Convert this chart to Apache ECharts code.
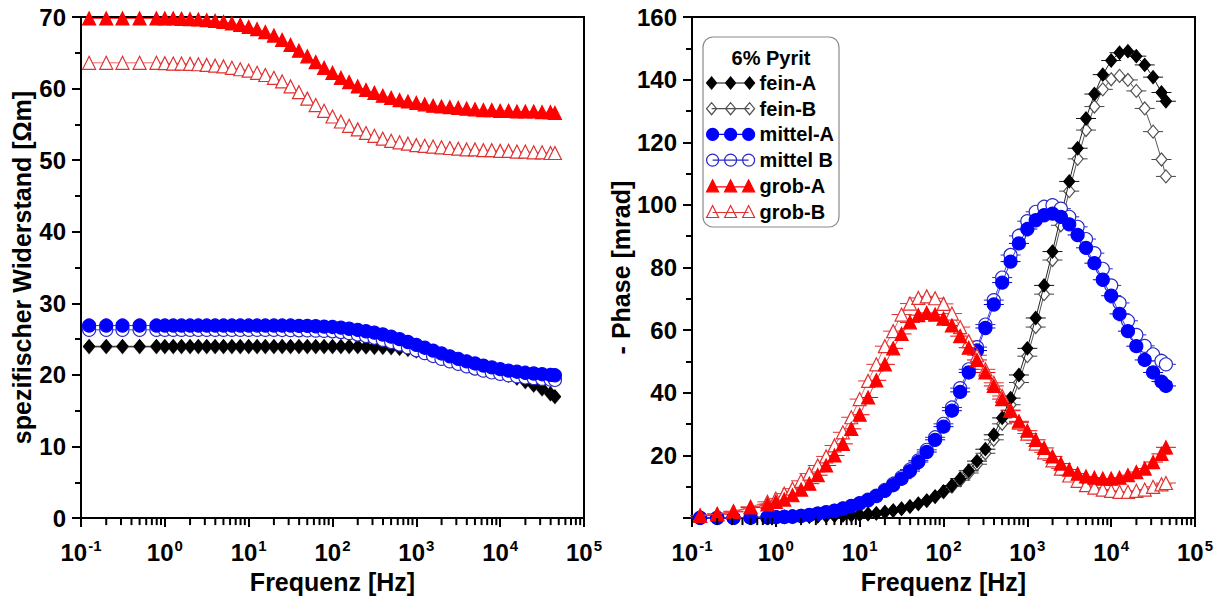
<!DOCTYPE html>
<html>
<head>
<meta charset="utf-8">
<script src="https://cdn.jsdelivr.net/npm/echarts@6/dist/echarts.min.js"></script>
<style>
html,body{margin:0;padding:0;background:#fff}
#chart{width:1219px;height:599px}
</style>
</head>
<body>
<div id="chart"></div>
<script>
// Measurement frequencies [Hz]
const freq = [0.125, 0.2, 0.3125, 0.5, 0.794,
  1.0, 1.26, 1.58, 2.0, 2.51, 3.16, 3.98, 5.01, 6.31, 7.94,
  10, 12.6, 15.8, 20.0, 25.1, 31.6, 39.8, 50.1, 63.1, 79.4,
  100, 126, 158, 200, 251, 316, 398, 501, 631, 794,
  1000, 1259, 1585, 1995, 2512, 3162, 3981, 5012, 6310, 7943,
  10000, 12589, 15849, 19953, 25119, 31623, 39811, 45000];

const seriesNames = ['fein-A', 'fein-B', 'mittel-A', 'mittel B', 'grob-A', 'grob-B'];

// Resistivity [Ohm m]
const resFeinA = [24.0, 24.0, 24.0, 24.0, 24.0,
  24.0, 24.0, 24.0, 24.0, 24.0, 24.0, 24.0, 24.0, 24.0, 24.0,
  24.0, 24.0, 24.0, 24.0, 24.0, 24.0, 24.0, 24.0, 24.0, 24.0,
  24.0, 24.0, 24.0, 24.0, 23.95, 23.9, 23.9, 23.85, 23.75, 23.6,
  23.4, 23.2, 22.95, 22.7, 22.4, 22.1, 21.8, 21.45, 21.1, 20.75,
  20.4, 20.0, 19.6, 19.1, 18.6, 18.1, 17.4, 17.0];
const resFeinB = [23.9, 23.9, 23.9, 23.9, 23.9,
  23.9, 23.9, 23.9, 23.9, 23.9, 23.9, 23.9, 23.9, 23.9, 23.9,
  23.9, 23.9, 23.9, 23.9, 23.9, 23.9, 23.9, 23.9, 23.9, 23.9,
  23.9, 23.9, 23.9, 23.9, 23.85, 23.8, 23.8, 23.75, 23.65, 23.5,
  23.3, 23.1, 22.85, 22.6, 22.3, 22.0, 21.7, 21.35, 21.0, 20.65,
  20.3, 19.9, 19.5, 19.0, 18.5, 18.0, 17.3, 16.9];
const resMittelA = [26.9, 26.9, 26.9, 26.9, 26.9,
  26.9, 26.9, 26.9, 26.9, 26.9, 26.9, 26.9, 26.9, 26.9, 26.9,
  26.9, 26.9, 26.9, 26.9, 26.9, 26.9, 26.85, 26.85, 26.8, 26.75,
  26.7, 26.6, 26.45, 26.3, 26.1, 25.9, 25.65, 25.35, 25.0, 24.6,
  24.2, 23.8, 23.4, 23.0, 22.6, 22.25, 21.9, 21.6, 21.3, 21.05,
  20.8, 20.6, 20.45, 20.3, 20.2, 20.1, 20.0, 19.95];
const resMittelB = [26.3, 26.3, 26.3, 26.3, 26.3,
  26.3, 26.3, 26.3, 26.3, 26.3, 26.3, 26.3, 26.3, 26.3, 26.3,
  26.3, 26.3, 26.3, 26.3, 26.28, 26.26, 26.24, 26.22, 26.2, 26.15,
  26.1, 26.0, 25.85, 25.65, 25.45, 25.2, 24.9, 24.6, 24.25, 23.85,
  23.45, 23.05, 22.65, 22.25, 21.9, 21.55, 21.2, 20.9, 20.6, 20.35,
  20.15, 19.95, 19.8, 19.65, 19.55, 19.45, 19.35, 19.3];
const resGrobA = [69.8, 69.8, 69.8, 69.8, 69.8,
  69.8, 69.8, 69.75, 69.7, 69.65, 69.55, 69.45, 69.3, 69.1, 68.9,
  68.6, 68.3, 67.9, 67.4, 66.8, 66.1, 65.3, 64.5, 63.7, 62.9,
  62.2, 61.5, 60.9, 60.3, 59.8, 59.4, 59.0, 58.7, 58.4, 58.2,
  58.0, 57.8, 57.6, 57.5, 57.4, 57.3, 57.2, 57.1, 57.0, 57.0,
  56.9, 56.9, 56.8, 56.8, 56.8, 56.7, 56.7, 56.6];
const resGrobB = [63.6, 63.6, 63.6, 63.6, 63.6,
  63.55, 63.5, 63.5, 63.45, 63.4, 63.3, 63.2, 63.1, 62.9, 62.7,
  62.5, 62.2, 61.9, 61.5, 61.0, 60.3, 59.5, 58.6, 57.7, 56.9,
  56.1, 55.4, 54.8, 54.3, 53.8, 53.4, 53.0, 52.7, 52.5, 52.3,
  52.1, 52.0, 51.9, 51.8, 51.7, 51.6, 51.5, 51.5, 51.4, 51.4,
  51.3, 51.3, 51.2, 51.2, 51.1, 51.1, 51.0, 51.0];

// Negative phase [mrad]
const phaseFeinA = [0.1, 0.1, 0.15, 0.2, 0.25,
  0.3, 0.35, 0.4, 0.45, 0.5, 0.6, 0.7, 0.8, 0.9, 1.0,
  1.1, 1.3, 1.5, 1.9, 2.4, 3.0, 3.7, 4.6, 5.6, 6.9,
  8.5, 10.4, 12.6, 15.1, 18.2, 22.0, 26.6, 32.0, 38.3, 45.7,
  54.2, 63.9, 74.3, 85.1, 96.4, 107.5, 118.1, 127.6, 135.4, 141.6,
  146.1, 148.6, 149.1, 147.5, 144.7, 140.8, 135.9, 133.1];
const phaseFeinB = [0.1, 0.1, 0.15, 0.2, 0.25,
  0.3, 0.35, 0.4, 0.45, 0.5, 0.6, 0.7, 0.8, 0.9, 1.0,
  1.1, 1.3, 1.5, 1.9, 2.4, 3.0, 3.7, 4.5, 5.5, 6.8,
  8.3, 10.1, 12.1, 14.4, 17.2, 20.7, 25.0, 30.1, 36.2, 43.3,
  51.7, 61.0, 71.5, 82.4, 93.5, 104.4, 114.7, 123.9, 131.4, 136.9,
  140.1, 141.2, 139.9, 136.4, 130.8, 123.4, 114.5, 109.1];
const phaseMittelA = [0.1, 0.1, 0.1, 0.15, 0.2,
  0.3, 0.4, 0.5, 0.7, 0.95, 1.4, 1.8, 2.3, 3.0, 3.8,
  4.7, 5.7, 7.0, 8.7, 10.5, 12.6, 15.0, 17.9, 21.1, 25.0,
  29.2, 34.3, 40.3, 46.5, 53.5, 60.7, 68.2, 75.2, 81.9, 87.7,
  92.3, 95.1, 96.7, 97.2, 96.2, 93.8, 90.4, 86.3, 81.4, 76.1,
  71.0, 65.2, 59.7, 54.9, 50.5, 46.5, 43.6, 42.2];
const phaseMittelB = [0.1, 0.1, 0.1, 0.15, 0.2,
  0.3, 0.4, 0.5, 0.7, 1.0, 1.4, 1.9, 2.4, 3.1, 3.9,
  4.8, 5.9, 7.2, 9.0, 10.9, 13.1, 15.5, 18.4, 21.8, 25.8,
  30.1, 35.3, 41.5, 47.5, 54.6, 61.8, 69.6, 76.8, 84.0, 90.1,
  94.8, 97.8, 99.4, 99.9, 98.8, 96.2, 93.0, 89.1, 84.6, 79.6,
  74.3, 68.7, 63.0, 58.5, 55.0, 52.3, 50.2, 49.1];
const phaseGrobA = [0.8, 1.3, 2.0, 3.4, 4.4,
  5.2, 5.9, 7.3, 9.1, 11.0, 13.7, 16.8, 20.0, 23.7, 28.5,
  33.0, 38.5, 44.0, 49.1, 54.2, 58.8, 62.5, 64.8, 65.5, 65.0,
  63.7, 61.5, 58.1, 54.4, 50.5, 46.5, 42.2, 38.0, 34.3, 30.9,
  27.9, 25.0, 22.4, 19.7, 17.4, 15.5, 14.2, 13.3, 12.9, 12.6,
  12.6, 12.9, 13.7, 14.7, 15.8, 17.9, 20.5, 22.6];
const phaseGrobB = [0.8, 1.3, 2.2, 3.6, 5.2,
  6.2, 7.8, 9.4, 11.9, 14.2, 16.8, 19.7, 23.2, 27.4, 32.2,
  38.0, 43.8, 49.1, 54.9, 59.7, 65.0, 68.5, 70.3, 70.8, 70.2,
  68.4, 65.3, 61.0, 56.5, 52.0, 47.5, 43.2, 39.0, 34.5, 30.5,
  27.0, 23.8, 21.0, 18.4, 15.8, 13.6, 11.9, 10.5, 9.7, 9.1,
  8.7, 8.4, 8.4, 8.7, 9.1, 10.0, 10.8, 11.2];

// Intermediate (2..9 x 10^n) tick positions on the frequency axes
const minorFreqTicks = [0.2, 0.3, 0.4, 0.5, 0.6, 0.7, 0.8, 0.9,
  2, 3, 4, 5, 6, 7, 8, 9,
  20, 30, 40, 50, 60, 70, 80, 90,
  200, 300, 400, 500, 600, 700, 800, 900,
  2000, 3000, 4000, 5000, 6000, 7000, 8000, 9000,
  20000, 30000, 40000, 50000, 60000, 70000, 80000, 90000];

const resistivity = [resFeinA, resFeinB, resMittelA, resMittelB, resGrobA, resGrobB];
const phase = [phaseFeinA, phaseFeinB, phaseMittelA, phaseMittelB, phaseGrobA, phaseGrobB];

const FONT = '"Liberation Sans", Arial, Helvetica, sans-serif';

const look = {
  'fein-A':   { symbol: 'diamond',  size: [11, 13], fill: '#000000', stroke: '#000000', line: '#222222', bar: '#111111', z: 4, icon: 'diamond' },
  'fein-B':   { symbol: 'diamond',  size: [11, 13], fill: '#ffffff', stroke: '#505050', line: '#555555', bar: '#444444', z: 3, icon: 'diamond' },
  'mittel-A': { symbol: 'circle',   size: 13,       fill: '#0000ff', stroke: '#0000ff', line: '#3030ff', bar: '#0000cc', z: 6, icon: 'circle' },
  'mittel B': { symbol: 'circle',   size: 13,       fill: '#ffffff', stroke: '#2828c8', line: '#4848e0', bar: '#2828c8', z: 5, icon: 'circle' },
  'grob-A':   { symbol: 'triangle', size: 13,       fill: '#ff0000', stroke: '#ff0000', line: '#ff3030', bar: '#ee0000', z: 8, icon: 'triangle' },
  'grob-B':   { symbol: 'triangle', size: 13,       fill: '#ffffff', stroke: '#e03030', line: '#e86868', bar: '#e03030', z: 7, icon: 'triangle' }
};

// Legend keys: three symbols joined by a line (drawn in a 48 x 12 box)
const legendIcons = {
  diamond: 'path://M0 6L5 0L10 6L5 12Z M19 6L24 0L29 6L24 12Z M38 6L43 0L48 6L43 12Z M5 6L43 6',
  circle: 'path://M0 6A6 6 0 1 1 12 6A6 6 0 1 1 0 6Z M18 6A6 6 0 1 1 30 6A6 6 0 1 1 18 6Z M36 6A6 6 0 1 1 48 6A6 6 0 1 1 36 6Z M6 6L42 6',
  triangle: 'path://M0 12L6 0L12 12Z M18 12L24 0L30 12Z M36 12L42 0L48 12Z M6 7L42 7'
};

const pairs = (xs, ys) => xs.map((x, i) => [x, ys[i]]);

const decadeLabel = v => '{b|10}{s|' + Math.round(Math.log10(v)) + '}';
const xRich = {
  b: { fontSize: 24, fontWeight: 'bold', fontFamily: FONT, color: '#000' },
  s: { fontSize: 15, fontWeight: 'bold', fontFamily: FONT, color: '#000', padding: [0, 0, 13, 1] }
};
const titleStyle = { fontSize: 25, fontWeight: 'bold', fontFamily: FONT, color: '#000' };
const tickLabelStyle = { fontSize: 24, fontWeight: 'bold', fontFamily: FONT, color: '#000' };

function freqAxis(gridIndex) {
  return {
    type: 'log', logBase: 10, gridIndex, min: 0.1, max: 100000, splitNumber: 6, position: 'bottom',
    name: 'Frequenz [Hz]', nameLocation: 'middle', nameGap: 45, nameTextStyle: titleStyle,
    axisLine: { show: true, onZero: false, lineStyle: { color: '#000', width: 2 } },
    axisTick: { show: true, inside: false, length: 9, lineStyle: { color: '#000', width: 2 } },
    axisLabel: { formatter: decadeLabel, rich: xRich, margin: 20 },
    splitLine: { show: false }
  };
}
function valueAxis(gridIndex, max, interval, name, nameGap, hideZero) {
  return {
    type: 'value', gridIndex, min: 0, max, interval,
    name, nameLocation: 'middle', nameGap, nameRotate: 90, nameTextStyle: titleStyle,
    axisLine: { show: true, onZero: false, lineStyle: { color: '#000', width: 2 } },
    axisTick: { show: true, inside: false, length: 9, lineStyle: { color: '#000', width: 2 } },
    minorTick: { show: true, splitNumber: 2, length: 6, lineStyle: { color: '#000', width: 2 } },
    axisLabel: Object.assign({ margin: 15, formatter: v => (hideZero && v === 0) ? '' : String(v) }, tickLabelStyle),
    splitLine: { show: false }
  };
}

// Short outward tick marks at 2..9 x 10^n below a frequency axis
function minorTickSeries(xAxisIndex, yAxisIndex) {
  return {
    type: 'custom', xAxisIndex, yAxisIndex, silent: true, clip: false, z: 10,
    data: minorFreqTicks.map(f => [f, 0]), encode: { x: 0, y: 1 },
    renderItem: (params, api) => {
      const p = api.coord([api.value(0), 0]);
      return { type: 'line', shape: { x1: p[0], y1: p[1], x2: p[0], y2: p[1] + 7 },
               style: { stroke: '#000', lineWidth: 2 } };
    }
  };
}

const series = [];
seriesNames.forEach((name, k) => {
  const s = look[name];
  // resistivity panel
  series.push({
    type: 'line', name, xAxisIndex: 0, yAxisIndex: 0,
    data: pairs(freq, resistivity[k]),
    symbol: s.symbol, symbolSize: s.size, showSymbol: true, z: s.z,
    itemStyle: { color: s.fill, borderColor: s.stroke, borderWidth: 1.2 },
    lineStyle: { color: s.line, width: 1 },
    emphasis: { disabled: true }
  });
  // phase panel
  series.push({
    type: 'line', name, xAxisIndex: 1, yAxisIndex: 1,
    data: pairs(freq, phase[k]),
    symbol: s.symbol, symbolSize: s.size, showSymbol: true, z: s.z,
    itemStyle: { color: s.fill, borderColor: s.stroke, borderWidth: 1.2 },
    lineStyle: { color: s.line, width: 1 },
    emphasis: { disabled: true }
  });
  // short horizontal bars through each phase point
  series.push({
    type: 'custom', name: name + ' bars', xAxisIndex: 1, yAxisIndex: 1,
    data: pairs(freq, phase[k]), encode: { x: 0, y: 1 }, z: 1, silent: true,
    renderItem: (params, api) => {
      const p = api.coord([api.value(0), api.value(1)]);
      return { type: 'line', shape: { x1: p[0] - 10, y1: p[1], x2: p[0] + 10, y2: p[1] },
               style: { stroke: s.bar, lineWidth: 1 } };
    }
  });
});
series.push(minorTickSeries(0, 0), minorTickSeries(1, 1));

const option = {
  animation: false,
  backgroundColor: '#ffffff',
  grid: [
    { left: 81, right: 635, top: 17, bottom: 78, show: true, borderColor: '#000', borderWidth: 2, backgroundColor: 'transparent' },
    { left: 692, right: 24, top: 17, bottom: 78, show: true, borderColor: '#000', borderWidth: 2, backgroundColor: 'transparent' }
  ],
  xAxis: [freqAxis(0), freqAxis(1)],
  yAxis: [
    valueAxis(0, 70, 10, 'spezifischer Widerstand [\u03A9m]', 47, false),
    valueAxis(1, 160, 20, '- Phase [mrad]', 53, true)
  ],
  graphic: [
    { type: 'rect', x: 703, y: 37, z: 0, shape: { width: 136, height: 190, r: 10 },
      style: { fill: '#ffffff', stroke: '#8a8a8a', lineWidth: 1.2 } },
    { type: 'text', x: 771, y: 58, z: 10,
      style: { text: '6% Pyrit', fill: '#000', fontSize: 20, fontWeight: 'bold', fontFamily: FONT, align: 'center', verticalAlign: 'middle' } }
  ],
  legend: {
    left: 706, top: 73, orient: 'vertical', padding: 0,
    itemWidth: 48, itemHeight: 12, itemGap: 5.7, selectedMode: false,
    textStyle: { fontSize: 20, fontWeight: 'bold', fontFamily: FONT, color: '#000', lineHeight: 20 },
    data: seriesNames.map(name => ({
      name, icon: legendIcons[look[name].icon],
      itemStyle: { color: look[name].fill, borderColor: look[name].stroke, borderWidth: 1.2 }
    }))
  },
  series
};

const chart = echarts.init(document.getElementById('chart'), null, { renderer: 'svg' });
chart.setOption(option);
</script>
</body>
</html>
